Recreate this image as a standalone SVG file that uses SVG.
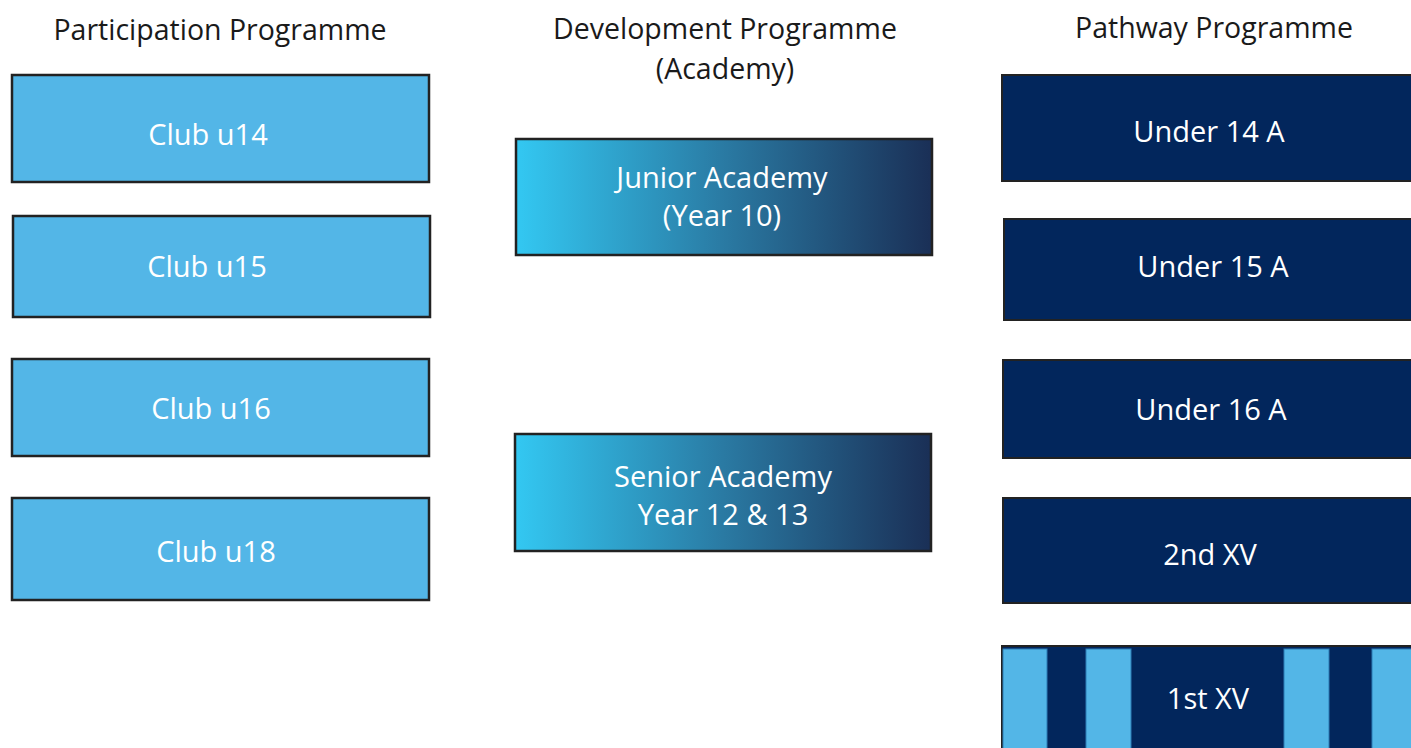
<svg xmlns="http://www.w3.org/2000/svg" width="1411" height="748" viewBox="0 0 1411 748">
<style>
.title{font-family:"Open Sans","Liberation Sans",sans-serif;font-size:28.5px;fill:#1a1a1a;text-anchor:middle}
.lbl{font-family:"Open Sans","Liberation Sans",sans-serif;font-size:29px;fill:#ffffff;text-anchor:middle}
.club{fill:#53b6e7;stroke:#222;stroke-width:2.5}
.acad{fill:url(#grad);stroke:#222;stroke-width:2.5}
.path{fill:#02265c;stroke:#222;stroke-width:2}
.stripe{fill:#53b6e7;stroke:#2d7db5;stroke-width:1}
</style>
<defs>
<linearGradient id="grad" x1="0" y1="0" x2="1" y2="0">
<stop offset="0" stop-color="#33c8f2"/>
<stop offset="0.5" stop-color="#2a7aa3"/>
<stop offset="1" stop-color="#1a2f56"/>
</linearGradient>
</defs>
<rect width="1411" height="748" fill="#ffffff"/>
<g id="titles">
<text class="title" x="220" y="40">Participation Programme</text>
<text class="title" x="725" y="39">Development Programme</text>
<text class="title" x="725" y="79">(Academy)</text>
<text class="title" x="1214" y="38">Pathway Programme</text>
</g>
<g id="club-u14"><rect class="club" x="12" y="75" width="417" height="107"/><text class="lbl" x="208" y="145">Club u14</text></g>
<g id="club-u15"><rect class="club" x="13" y="216" width="417" height="101"/><text class="lbl" x="207" y="277">Club u15</text></g>
<g id="club-u16"><rect class="club" x="12" y="359" width="417" height="97"/><text class="lbl" x="211" y="419">Club u16</text></g>
<g id="club-u18"><rect class="club" x="12" y="498" width="417" height="102"/><text class="lbl" x="216" y="562">Club u18</text></g>
<g id="junior-academy"><rect class="acad" x="516" y="139" width="416" height="116"/><text class="lbl" x="722" y="188">Junior Academy</text><text class="lbl" x="722" y="226">(Year 10)</text></g>
<g id="senior-academy"><rect class="acad" x="515" y="434" width="416" height="117"/><text class="lbl" x="723" y="487">Senior Academy</text><text class="lbl" x="723" y="525">Year 12 &amp; 13</text></g>
<g id="under-14a"><rect class="path" x="1002" y="75" width="415" height="106"/><text class="lbl" x="1209" y="142">Under 14 A</text></g>
<g id="under-15a"><rect class="path" x="1004" y="219" width="415" height="101"/><text class="lbl" x="1213" y="277">Under 15 A</text></g>
<g id="under-16a"><rect class="path" x="1003" y="360" width="415" height="98"/><text class="lbl" x="1211" y="420">Under 16 A</text></g>
<g id="second-xv"><rect class="path" x="1003" y="498" width="415" height="105"/><text class="lbl" x="1210" y="565">2nd XV</text></g>
<g id="first-xv"><rect class="path" x="1002" y="646" width="415" height="110"/>
<rect class="stripe" x="1003" y="649" width="44" height="105"/>
<rect class="stripe" x="1086" y="649" width="45" height="105"/>
<rect class="stripe" x="1284" y="649" width="45" height="105"/>
<rect class="stripe" x="1372" y="649" width="45" height="105"/>
<text class="lbl" x="1208" y="709">1st XV</text></g>
<g id="connectors"></g>
</svg>
